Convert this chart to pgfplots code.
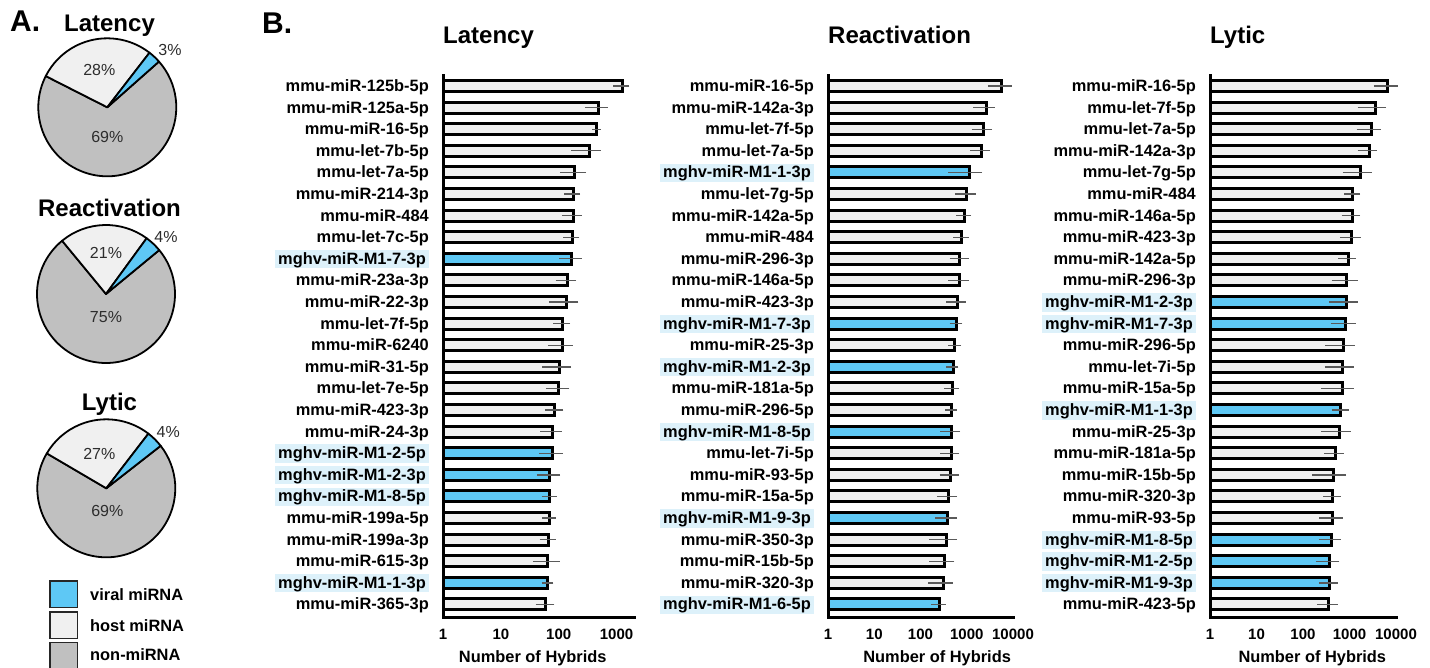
\documentclass[border=0pt]{standalone}
\usepackage{pgfplots}
\pgfplotsset{compat=1.18}
\usepackage{pgfplotstable}
\usepackage{fontspec}
\setmainfont{Liberation Sans}
\definecolor{viral}{RGB}{94,200,245}
\definecolor{host}{RGB}{240,240,240}
\definecolor{nonc}{RGB}{192,192,192}
\definecolor{hl}{RGB}{221,241,250}
\definecolor{errc}{RGB}{90,90,90}
\definecolor{pct}{RGB}{45,45,45}
\newcommand\lblfont{\fontsize{16.4bp}{19bp}\selectfont\bfseries}
\newcommand\tkfont{\fontsize{15bp}{18bp}\selectfont\bfseries}
\newcommand\ttlfont{\fontsize{24bp}{28bp}\selectfont\bfseries}
\newcommand\bigfont{\fontsize{30bp}{34bp}\selectfont\bfseries}
\newcommand\pctfont{\fontsize{16bp}{19bp}\selectfont}
\newcommand\V[1]{{\fboxsep=0pt\colorbox{hl}{\rule[-4bp]{0pt}{18.3bp}\hspace{3bp}#1\hspace{3bp}}}\hspace{-3bp}}

% r = rank from top, h = host value, w = viral value, lo/hi = error range
\pgfplotstableread{
r h w lo hi
1 1250 nan 1000 1445
2 482 nan 324 611
3 451 nan 440 462
4 337 nan 190 463
5 190 nan 120 258
6 178 nan 142 204
7 178 nan 130 217
8 174 nan 137 198
9 nan 167 117 217
10 142 nan 102 174
11 137 nan 78 190
12 117 nan 92 137
13 114 nan 75 152
14 102 nan 60 142
15 100 nan 69 133
16 86 nan 66 105
17 78 nan 55 98
18 nan 78 53 102
19 nan 70 49 92
20 nan 69 58 80
21 68 nan 60 78
22 66 nan 54 78
23 64 nan 41 90
24 nan 64 58 70
25 60 nan 46 73
}\lat
\pgfplotstableread{
r h w lo hi
1 5660 nan 3415 7925
2 2610 nan 1655 3415
3 2317 nan 1521 2985
4 2060 nan 1398 2653
5 nan 1142 468 1800
6 998 nan 655 1330
7 873 nan 713 1050
8 776 nan 602 918
9 713 nan 509 918
10 713 nan 468 949
11 634 nan 430 802
12 nan 602 509 678
13 554 nan 468 634
14 nan 509 430 554
15 484 nan 389 573
16 468 nan 410 509
17 nan 468 318 602
18 468 nan 318 573
19 452 nan 307 573
20 395 nan 273 518
21 nan 382 247 518
22 363 nan 185 518
23 334 nan 185 452
24 312 nan 176 416
25 nan 259 201 292
}\rea
\pgfplotstableread{
r h w lo hi
1 6620 nan 3970 9210
2 3595 nan 1767 5165
3 2900 nan 1682 3970
4 2625 nan 1767 3256
5 1740 nan 841 2541
6 1170 nan 914 1426
7 1150 nan 800 1426
8 1113 nan 737 1473
9 944 nan 679 1150
10 869 nan 488 1250
11 nan 869 427 1250
12 nan 800 472 1150
13 737 nan 362 1077
14 713 nan 351 1025
15 690 nan 288 1025
16 nan 656 488 800
17 604 nan 297 898
18 488 nan 339 625
19 449 nan 187 713
20 434 nan 323 548
21 427 nan 265 604
22 nan 413 261 548
23 nan 368 224 512
24 nan 368 261 464
25 362 nan 240 472
}\lyt

\pgfplotsset{
  mypanel/.style={scale only axis, height=542bp, xmin=1, ymin=0.42, ymax=25.51,
    axis x line*=bottom, axis y line*=left,
    axis line style={line width=3bp, black, line cap=rect},
    major tick length=0pt, minor tick length=0pt, ytick={1,...,25}, clip=false,
    yticklabel style={font=\lblfont, anchor=base east, inner sep=0pt, xshift=-14bp, yshift=-5.5bp},
    xticklabel style={font=\tkfont, anchor=north, inner sep=0pt, yshift=-12bp},
    xlabel={Number of Hybrids},
    xlabel style={font=\lblfont, anchor=center, yshift=-41bp}},
  mybar/.style={xbar, bar width=11bp, bar shift=0pt, draw=black, line width=3bp,
    error bars/x dir=both, error bars/x explicit,
    error bars/error bar style={line width=1.3bp, draw=errc},
    error bars/error mark options={line width=1.3bp, draw=errc, mark size=3.5bp}},
}

\newcommand\pie[5]{%
  \pgfmathsetmacro\pA{#5}\pgfmathsetmacro\pB{#5+3.6*#3}%
  \pgfmathsetmacro\pC{\pB+3.6*#4}\pgfmathsetmacro\pD{#5+360}%
  \begin{axis}[at={(#1bp,-#2bp)}, anchor=center, width=138bp, height=138bp,
    scale only axis, hide axis, xmin=-1, xmax=1, ymin=-1, ymax=1, clip=false]
    \filldraw[fill=nonc, line width=1.8bp, line join=round] (axis cs:0,0) -- ++(\pC:69bp) arc[start angle=\pC, end angle=\pD, radius=69bp] -- cycle;
    \filldraw[fill=host, line width=1.8bp, line join=round] (axis cs:0,0) -- ++(\pB:69bp) arc[start angle=\pB, end angle=\pC, radius=69bp] -- cycle;
    \filldraw[fill=viral, line width=1.8bp, line join=round] (axis cs:0,0) -- ++(\pA:69bp) arc[start angle=\pA, end angle=\pB, radius=69bp] -- cycle;
  \end{axis}}

\begin{document}
\begin{tikzpicture}
\useasboundingbox (0,0) rectangle (1430bp,-668bp);

% ---------- A. pies ----------
\node[anchor=base west, inner sep=0pt, font=\bigfont] at (10bp,-31.7bp) {A.};
\node[anchor=base, inner sep=0pt, font=\ttlfont] at (109.5bp,-31.7bp) {Latency};
\node[anchor=base, inner sep=0pt, font=\ttlfont] at (109.5bp,-216.7bp) {Reactivation};
\node[anchor=base, inner sep=0pt, font=\ttlfont] at (109.5bp,-410.7bp) {Lytic};

\pie{107.3}{107.3}{3}{28}{41.5}
\pie{106}{294}{4}{21}{39.5}
\pie{106.3}{488.3}{4}{27}{38}

\node[font=\pctfont, text=pct, inner sep=0pt] at (99.3bp,-70bp) {28\%};
\node[font=\pctfont, text=pct, inner sep=0pt] at (107.3bp,-136.7bp) {69\%};
\node[font=\pctfont, text=pct, inner sep=0pt] at (170bp,-50bp) {3\%};
\node[font=\pctfont, text=pct, inner sep=0pt] at (106bp,-252.7bp) {21\%};
\node[font=\pctfont, text=pct, inner sep=0pt] at (106bp,-316.7bp) {75\%};
\node[font=\pctfont, text=pct, inner sep=0pt] at (166bp,-236.7bp) {4\%};
\node[font=\pctfont, text=pct, inner sep=0pt] at (99.3bp,-454bp) {27\%};
\node[font=\pctfont, text=pct, inner sep=0pt] at (107.3bp,-510.7bp) {69\%};
\node[font=\pctfont, text=pct, inner sep=0pt] at (168.3bp,-431.7bp) {4\%};

% legend
\filldraw[fill=viral, draw=black!85, line width=1.3bp] (50bp,-581bp) rectangle (77.7bp,-607.3bp);
\filldraw[fill=host, draw=black!85, line width=1.3bp] (50bp,-612bp) rectangle (77.7bp,-638.3bp);
\filldraw[fill=nonc, draw=black!85, line width=1.3bp] (50bp,-642.5bp) rectangle (77.7bp,-669bp);
\node[anchor=west, inner sep=0pt, font=\lblfont] at (90bp,-595bp) {viral miRNA};
\node[anchor=west, inner sep=0pt, font=\lblfont] at (90bp,-625.7bp) {host miRNA};
\node[anchor=west, inner sep=0pt, font=\lblfont] at (90bp,-655bp) {non-miRNA};

% ---------- B. bars ----------
\node[anchor=base west, inner sep=0pt, font=\bigfont] at (262bp,-33bp) {B.};
\node[anchor=base west, inner sep=0pt, font=\ttlfont] at (443bp,-43bp) {Latency};
\node[anchor=base west, inner sep=0pt, font=\ttlfont] at (828bp,-43bp) {Reactivation};
\node[anchor=base west, inner sep=0pt, font=\ttlfont] at (1210bp,-43bp) {Lytic};

\begin{semilogxaxis}[mypanel, at={(443bp,-617bp)}, anchor=south west, width=191bp, xmax=2000,
  xtick={1,10,100,1000}, xticklabels={1,10,100,1000},
  xlabel style={at={(axis description cs:0.47,0)}},
  yticklabels={mmu-miR-365-3p, \V{mghv-miR-M1-1-3p}, mmu-miR-615-3p, mmu-miR-199a-3p, mmu-miR-199a-5p, \V{mghv-miR-M1-8-5p}, \V{mghv-miR-M1-2-3p}, \V{mghv-miR-M1-2-5p}, mmu-miR-24-3p, mmu-miR-423-3p, mmu-let-7e-5p, mmu-miR-31-5p, mmu-miR-6240, mmu-let-7f-5p, mmu-miR-22-3p, mmu-miR-23a-3p, \V{mghv-miR-M1-7-3p}, mmu-let-7c-5p, mmu-miR-484, mmu-miR-214-3p, mmu-let-7a-5p, mmu-let-7b-5p, mmu-miR-16-5p, mmu-miR-125a-5p, mmu-miR-125b-5p}]
\addplot[mybar, fill=host] table[x=h, y expr=26-\thisrow{r}, x error plus expr=\thisrow{hi}-\thisrow{h}, x error minus expr=\thisrow{h}-\thisrow{lo}] {\lat};
\addplot[mybar, fill=viral] table[x=w, y expr=26-\thisrow{r}, x error plus expr=\thisrow{hi}-\thisrow{w}, x error minus expr=\thisrow{w}-\thisrow{lo}] {\lat};
\end{semilogxaxis}

\begin{semilogxaxis}[mypanel, at={(828bp,-617bp)}, anchor=south west, width=185bp, xmax=10000,
  xtick={1,10,100,1000,10000}, xticklabels={1,10,100,1000,10000},
  xlabel style={at={(axis description cs:0.59,0)}},
  yticklabels={\V{mghv-miR-M1-6-5p}, mmu-miR-320-3p, mmu-miR-15b-5p, mmu-miR-350-3p, \V{mghv-miR-M1-9-3p}, mmu-miR-15a-5p, mmu-miR-93-5p, mmu-let-7i-5p, \V{mghv-miR-M1-8-5p}, mmu-miR-296-5p, mmu-miR-181a-5p, \V{mghv-miR-M1-2-3p}, mmu-miR-25-3p, \V{mghv-miR-M1-7-3p}, mmu-miR-423-3p, mmu-miR-146a-5p, mmu-miR-296-3p, mmu-miR-484, mmu-miR-142a-5p, mmu-let-7g-5p, \V{mghv-miR-M1-1-3p}, mmu-let-7a-5p, mmu-let-7f-5p, mmu-miR-142a-3p, mmu-miR-16-5p}]
\addplot[mybar, fill=host] table[x=h, y expr=26-\thisrow{r}, x error plus expr=\thisrow{hi}-\thisrow{h}, x error minus expr=\thisrow{h}-\thisrow{lo}] {\rea};
\addplot[mybar, fill=viral] table[x=w, y expr=26-\thisrow{r}, x error plus expr=\thisrow{hi}-\thisrow{w}, x error minus expr=\thisrow{w}-\thisrow{lo}] {\rea};
\end{semilogxaxis}

\begin{semilogxaxis}[mypanel, at={(1210bp,-617bp)}, anchor=south west, width=186bp, xmax=10000,
  xtick={1,10,100,1000,10000}, xticklabels={1,10,100,1000,10000},
  xlabel style={at={(axis description cs:0.55,0)}},
  yticklabels={mmu-miR-423-5p, \V{mghv-miR-M1-9-3p}, \V{mghv-miR-M1-2-5p}, \V{mghv-miR-M1-8-5p}, mmu-miR-93-5p, mmu-miR-320-3p, mmu-miR-15b-5p, mmu-miR-181a-5p, mmu-miR-25-3p, \V{mghv-miR-M1-1-3p}, mmu-miR-15a-5p, mmu-let-7i-5p, mmu-miR-296-5p, \V{mghv-miR-M1-7-3p}, \V{mghv-miR-M1-2-3p}, mmu-miR-296-3p, mmu-miR-142a-5p, mmu-miR-423-3p, mmu-miR-146a-5p, mmu-miR-484, mmu-let-7g-5p, mmu-miR-142a-3p, mmu-let-7a-5p, mmu-let-7f-5p, mmu-miR-16-5p}]
\addplot[mybar, fill=host] table[x=h, y expr=26-\thisrow{r}, x error plus expr=\thisrow{hi}-\thisrow{h}, x error minus expr=\thisrow{h}-\thisrow{lo}] {\lyt};
\addplot[mybar, fill=viral] table[x=w, y expr=26-\thisrow{r}, x error plus expr=\thisrow{hi}-\thisrow{w}, x error minus expr=\thisrow{w}-\thisrow{lo}] {\lyt};
\end{semilogxaxis}
\end{tikzpicture}
\end{document}
